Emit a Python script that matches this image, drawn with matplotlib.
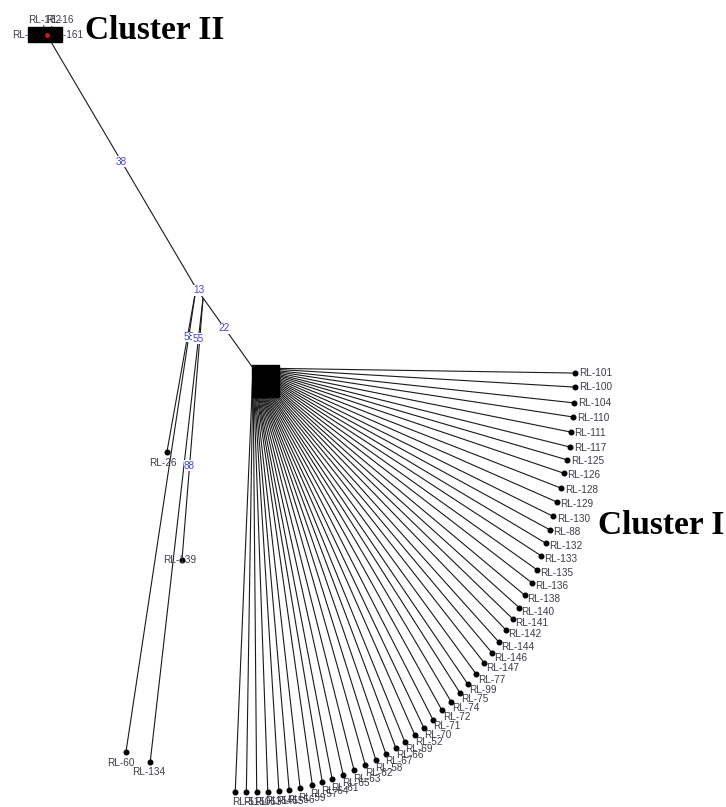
import numpy as np
import matplotlib
matplotlib.use("Agg")
import matplotlib.pyplot as plt
from matplotlib.patches import Rectangle

# ---------------- data ----------------
# Cluster I: star of leaves around the hub (angle in degrees, clockwise from east; branch length)
fan_labels = ["RL-101", "RL-100", "RL-104", "RL-110", "RL-111", "RL-117", "RL-125", "RL-126",
              "RL-128", "RL-129", "RL-130", "RL-88", "RL-132", "RL-133", "RL-135", "RL-136",
              "RL-138", "RL-140", "RL-141", "RL-142", "RL-144", "RL-146", "RL-147", "RL-77",
              "RL-99", "RL-75", "RL-74", "RL-72", "RL-71", "RL-70", "RL-52", "RL-69",
              "RL-66", "RL-67", "RL-58", "RL-62", "RL-63", "RL-65", "RL-61", "RL-64",
              "RL-57", "RL-59", "RL-56", "RL-55", "RL-54", "RL-53", "RL-50", "RL-51"]
fan_angles = [0.9, 3.4, 6.2, 8.7, 11.4, 14.0, 16.3, 18.7, 21.3, 23.8, 26.3, 28.6, 30.9, 33.1,
              35.4, 37.6, 39.9, 42.0, 44.0, 46.0, 48.1, 50.0, 51.9, 53.9, 55.8, 57.5, 59.3,
              61.1, 62.9, 64.6, 66.2, 67.9, 69.4, 71.0, 72.6, 74.2, 75.9, 77.5, 79.1, 80.5,
              81.9, 83.6, 85.1, 86.5, 88.0, 89.5, 90.9, 92.4]
fan_lengths = [322, 323, 323, 324, 324, 327, 327, 328, 331, 332, 335, 338, 341, 344, 349, 352,
               354, 358, 361, 364, 368, 372, 375, 379, 382, 385, 388, 391, 395, 399, 401, 404,
               406, 408, 411, 413, 415, 417, 419, 420, 421, 423, 424, 424, 424, 424, 424, 424]

# internal nodes (parent, angle, length)
node_names = ["hub", "n13", "n55", "cII"]
node_parents = [None, "hub", "hub", "n13"]
node_angles = [0.0, 234.5, 234.5, 239.5]
node_lengths = [0, 98, 86, 294]

# side leaves between the clusters
side_labels = ["RL-26", "RL-60", "RL-139", "RL-134"]
side_parents = ["n13", "n13", "n55", "n55"]
side_angles = [100.1, 98.6, 94.6, 96.5]
side_lengths = [166, 469, 263, 467]

# Cluster II leaves
c2_labels = ["RL-162", "RL-16", "RL-160", "RL-161"]
c2_angles = [250, 300, 180, 0]
c2_lengths = [10, 10, 12, 10]

# bootstrap / branch labels: (text, from node, to node/leaf, fraction)
bl_texts = ["38", "22", "58", "55", "88"]
bl_from = ["n13", "hub", "n13", "n55", "n55"]
bl_to = ["cII", "n13", "RL-60", "RL-134", "RL-139"]
bl_frac = [0.5, 0.5, 0.105, 0.088, 0.64]

# ---------------- layout ----------------
def polar(p, ang, length):
    a = np.deg2rad(ang)
    return (p[0] + length * np.cos(a), p[1] + length * np.sin(a))

pos = {}
for n, par, a, L in zip(node_names, node_parents, node_angles, node_lengths):
    pos[n] = (0.0, 0.0) if par is None else polar(pos[par], a, L)

fig = plt.figure(figsize=(7.26, 8.07), dpi=100)
ax = fig.add_axes([0, 0, 1, 1])
ax.set_xlim(-253, 473)
ax.set_ylim(439, -368)
ax.axis("off")

LC = "#1a1a1a"
TC = "#3c3c4a"
BLUE = "#4343e0"
FS = 7.2
FONT = "Liberation Sans"

def seg(p, q, **kw):
    ax.plot([p[0], q[0]], [p[1], q[1]], color=LC, lw=0.8, solid_capstyle="butt", zorder=2, **kw)

# backbone
seg(pos["hub"], pos["n13"])
seg(pos["n13"], pos["cII"])

# Cluster I fan
hub = pos["hub"]
for lab, a, L in zip(fan_labels, fan_angles, fan_lengths):
    q = polar(hub, a, L)
    seg(hub, q)
    ax.plot(q[0], q[1], "o", color="black", ms=3.3, zorder=3)
    f = a / 90.0
    dx = 4 - 7 * f ** 2
    dy = 10 * max(f, 0) ** 1.2
    ax.text(q[0] + dx, q[1] + dy, lab, fontsize=FS, color=TC, family=FONT,
            ha="left", va="center", zorder=4)
ax.add_patch(Rectangle((hub[0] - 1, hub[1] - 3), 27, 32, color="black", zorder=2.5))

# side leaves
side_offsets = [(-4, 11), (-5, 11), (-2, 0), (-2, 10)]
for lab, par, a, L, off in zip(side_labels, side_parents, side_angles, side_lengths, side_offsets):
    p = pos[par]
    q = polar(p, a, L)
    pos[lab] = q
    seg(p, q)
    ax.plot(q[0], q[1], "o", color="black", ms=3.3, zorder=3)
    ax.text(q[0] + off[0], q[1] + off[1], lab, fontsize=FS, color=TC, family=FONT,
            ha="center", va="center", zorder=4)

# Cluster II
c2 = pos["cII"]
c2_text_off = [(-19, -15, "left"), (-1, -15, "left"), (-35, 0, "left"), (3, 0, "left")]
for lab, a, L, (ox, oy, ha) in zip(c2_labels, c2_angles, c2_lengths, c2_text_off):
    q = polar(c2, a, L)
    seg(c2, q)
    ax.text(c2[0] + ox, c2[1] + oy, lab, fontsize=FS, color=TC, family=FONT,
            ha=ha, va="center", zorder=4)
ax.add_patch(Rectangle((c2[0] - 19, c2[1] - 8), 34, 15, color="black", zorder=5))
ax.plot(c2[0], c2[1], "o", color="#e01010", ms=2.5, zorder=6)

# branch labels
for t, a_, b_, fr in zip(bl_texts, bl_from, bl_to, bl_frac):
    p, q = pos[a_], pos[b_]
    x = p[0] + fr * (q[0] - p[0])
    y = p[1] + fr * (q[1] - p[1])
    ax.text(x, y, t, fontsize=FS, color=BLUE, family=FONT, ha="center", va="center",
            zorder=4, bbox=dict(facecolor="white", edgecolor="none", pad=0.3))
n13 = pos["n13"]
ax.text(n13[0] + 3, n13[1] + 2, "13", fontsize=FS, color=BLUE, family=FONT,
        ha="center", va="center", zorder=4,
        bbox=dict(facecolor="white", edgecolor="none", pad=0.3))

# cluster titles
ax.text(c2[0] + 38, c2[1] - 4, "Cluster II", fontsize=24, fontweight="bold",
        family="Liberation Serif", color="black", ha="left", va="center", zorder=7)
ax.text(345, 158, "Cluster I", fontsize=24, fontweight="bold",
        family="Liberation Serif", color="black", ha="left", va="center", zorder=7)

fig.savefig("out.png", dpi=100, facecolor="white")
